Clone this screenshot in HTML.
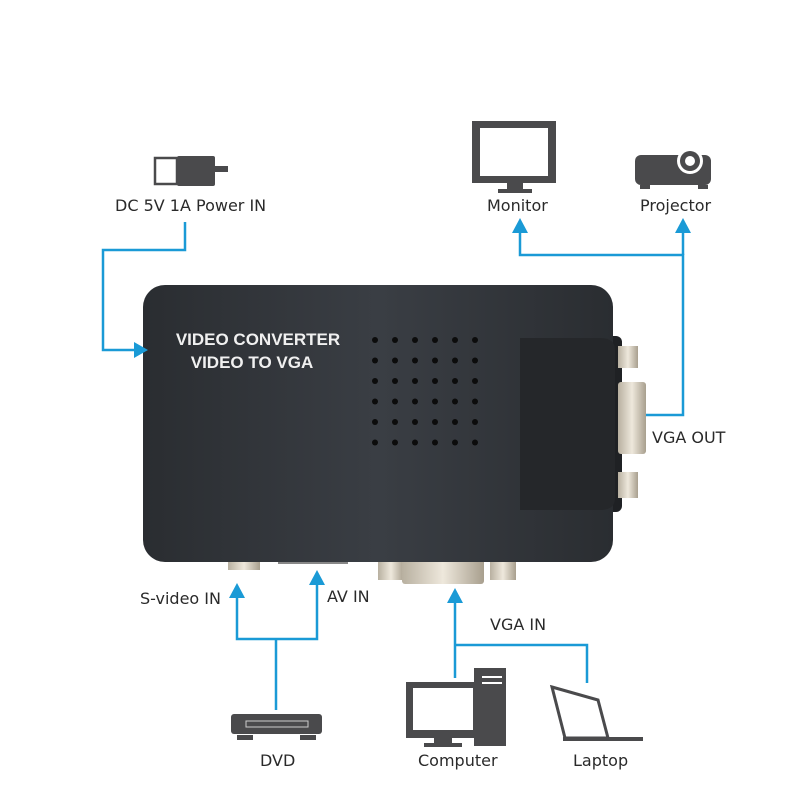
<!DOCTYPE html>
<html><head><meta charset="utf-8"><style>
html,body{margin:0;padding:0;background:#fff;}
svg{display:block;}
text{font-family:"DejaVu Sans","Liberation Sans",sans-serif;fill:#2a2a2a;font-size:16px;}
</style></head><body>
<svg width="800" height="800" viewBox="0 0 800 800" xmlns="http://www.w3.org/2000/svg">
<defs>
<linearGradient id="body" x1="0" y1="0" x2="1" y2="0">
<stop offset="0" stop-color="#2a2d31"/><stop offset="0.5" stop-color="#3a3e44"/><stop offset="1" stop-color="#2a2d31"/>
</linearGradient>
<linearGradient id="port" x1="0" y1="0" x2="1" y2="0">
<stop offset="0" stop-color="#b8b0a0"/><stop offset="0.5" stop-color="#eee8dc"/><stop offset="1" stop-color="#a89f8e"/>
</linearGradient>
</defs>
<!-- blue connectors -->
<g stroke="#1a9ad6" stroke-width="2.5" fill="none">
<polyline points="185,222 185,250 103,250 103,350 138,350"/>
<polyline points="520,232 520,255 683,255 683,415 645,415"/>
<line x1="683" y1="232" x2="683" y2="255"/>
<polyline points="237,596 237,639 317,639 317,584"/>
<line x1="276" y1="639" x2="276" y2="710"/>
<polyline points="455,602 455,678"/>
<polyline points="455,645 587,645 587,683"/>
</g>
<!-- device -->
<rect x="540" y="336" width="82" height="176" rx="6" fill="#1f2124"/>
<rect x="618" y="346" width="20" height="22" fill="url(#port)"/>
<rect x="618" y="382" width="28" height="72" rx="3" fill="url(#port)"/>
<rect x="618" y="472" width="20" height="26" fill="url(#port)"/>
<rect x="228" y="556" width="32" height="14" fill="url(#port)"/>
<rect x="278" y="556" width="70" height="8" fill="#888"/>
<rect x="378" y="556" width="26" height="24" fill="url(#port)"/>
<rect x="402" y="556" width="82" height="28" rx="3" fill="url(#port)"/>
<rect x="490" y="556" width="26" height="24" fill="url(#port)"/>
<rect x="143" y="285" width="470" height="277" rx="22" fill="url(#body)"/>
<path d="M520 338 H600 Q615 338 615 350 V498 Q615 510 600 510 H520 Z" fill="#25272a"/>
<text x="258" y="345" text-anchor="middle" style="fill:#f0f0f0;font-family:'Liberation Sans',sans-serif;font-weight:bold;font-size:17px">VIDEO CONVERTER</text>
<text x="252" y="368" text-anchor="middle" style="fill:#f0f0f0;font-family:'Liberation Sans',sans-serif;font-weight:bold;font-size:17px">VIDEO TO VGA</text>
<g fill="#0c0c0c">
<g id="row"><circle cx="375" cy="340" r="3"/><circle cx="395" cy="340" r="3"/><circle cx="415" cy="340" r="3"/><circle cx="435" cy="340" r="3"/><circle cx="455" cy="340" r="3"/><circle cx="475" cy="340" r="3"/></g>
<use href="#row" y="20.5"/><use href="#row" y="41"/><use href="#row" y="61.5"/><use href="#row" y="82"/><use href="#row" y="102.5"/>
</g>
<g fill="#1a9ad6">
<polygon points="148,350 134,342 134,358"/>
<polygon points="520,218 512,233 528,233"/>
<polygon points="683,218 675,233 691,233"/>
<polygon points="237,583 229,598 245,598"/>
<polygon points="317,570 309,585 325,585"/>
<polygon points="455,588 447,603 463,603"/>
</g>
<!-- icons -->
<g fill="#4a4a4c">
<rect x="155" y="158" width="22" height="26" fill="none" stroke="#4a4a4c" stroke-width="2.5"/>
<rect x="177" y="156" width="38" height="30" rx="2"/>
<rect x="213" y="166" width="15" height="6"/>
<rect x="472" y="121" width="84" height="62" />
<rect x="480" y="128" width="68" height="48" fill="#fff"/>
<rect x="507" y="183" width="16" height="6"/><rect x="498" y="189" width="34" height="4"/>
<rect x="635" y="155" width="76" height="30" rx="6"/>
<circle cx="690" cy="161" r="13" fill="#fff"/><circle cx="690" cy="161" r="10"/><circle cx="690" cy="161" r="5" fill="#fff"/>
<rect x="640" y="185" width="10" height="4"/><rect x="698" y="185" width="10" height="4"/>
<rect x="231" y="714" width="91" height="20" rx="3"/>
<rect x="246" y="721" width="62" height="6" fill="none" stroke="#ccc" stroke-width="1"/>
<rect x="237" y="735" width="16" height="5"/><rect x="300" y="735" width="16" height="5"/>
<rect x="406" y="682" width="74" height="56"/>
<rect x="413" y="688" width="60" height="42" fill="#fff"/>
<rect x="434" y="738" width="18" height="6"/><rect x="424" y="743" width="38" height="4"/>
<rect x="474" y="668" width="32" height="78"/>
<rect x="482" y="676" width="20" height="2" fill="#fff"/><rect x="482" y="682" width="20" height="2" fill="#fff"/>
<path d="M552 687 L598 700 L608 738 L565 738 Z" fill="none" stroke="#4a4a4c" stroke-width="3"/>
<rect x="563" y="737" width="80" height="4"/>
</g>
<!-- labels -->
<text x="115" y="211">DC 5V 1A Power IN</text>
<text x="487" y="211">Monitor</text>
<text x="640" y="211">Projector</text>
<text x="652" y="443">VGA OUT</text>
<text x="140" y="604">S-video IN</text>
<text x="327" y="602">AV IN</text>
<text x="490" y="630">VGA IN</text>
<text x="260" y="766">DVD</text>
<text x="418" y="766">Computer</text>
<text x="573" y="766">Laptop</text>
</svg>
</body></html>
